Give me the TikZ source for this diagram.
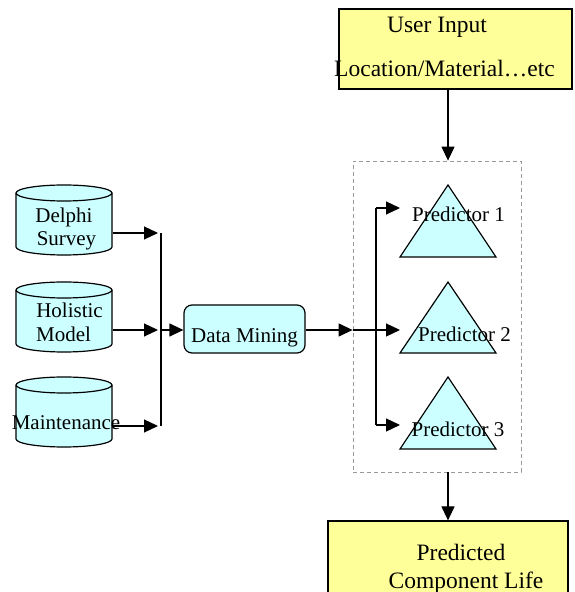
\documentclass[tikz,border=0pt]{standalone}
\usepackage{fontspec}
\setmainfont{Liberation Serif}
\usetikzlibrary{arrows.meta,calc}
\definecolor{cyanfill}{HTML}{CCFFFF}
\definecolor{yellowfill}{HTML}{FFFF99}
\definecolor{dashgray}{HTML}{999999}
\newcommand\mycyl[3]{%
  \draw[fill=cyanfill] ({#2-48},{#3-8}) -- ({#2-48},{#3-62})
    arc[start angle=180,end angle=360,x radius=48pt,y radius=8pt]
    -- ({#2+48},{#3-8})
    arc[start angle=0,end angle=180,x radius=48pt,y radius=8pt] -- cycle;
  \draw ({#2-48},{#3-8}) arc[start angle=180,end angle=360,x radius=48pt,y radius=8pt];
  \node[minimum width=96pt,minimum height=70pt,inner sep=0pt] (#1) at (#2,{#3-35}) {};
}
\begin{document}
\begin{tikzpicture}[x=1pt,y=1pt,line width=1.2pt,
  arr/.style={-{Triangle[length=14pt,width=13pt]}},
  ctxt/.style={font=\fontsize{21}{25}\selectfont,anchor=base,inner sep=0pt},
  ytxt/.style={font=\fontsize{23.5}{28}\selectfont,anchor=base,inner sep=0pt},
  ybox/.style={draw,fill=yellowfill,inner sep=0pt},
  tri/.style={draw,fill=cyanfill,line join=miter}]
\useasboundingbox (0,0) rectangle (574,592);
\clip (0,0) rectangle (574,592);

% user input box
\node[ybox,minimum width=233pt,minimum height=80pt] (user) at (455.5,543) {};
\node[ytxt] (ut1) at (437,559) {User Input};
\node[ytxt] (ut2) at (444.5,515) {Location/Material…etc};

% cylinders
\mycyl{delphi}{64}{407}
\mycyl{holistic}{64}{310}
\mycyl{maint}{64}{215}
\node[ctxt] (dt1) at (64,369) {Delphi};
\node[ctxt] (dt2) at (66.5,346) {Survey};
\node[ctxt] (ht1) at (69.5,274) {Holistic};
\node[ctxt] (ht2) at (63.5,250) {Model};
\node[ctxt] (mt1) at (66,162) {Maintenance};

% bus left
\coordinate (bl1) at (161,359);
\coordinate (bl2) at (161,262);
\coordinate (bl3) at (161,166);
\draw[arr,shorten >=3pt] (delphi.east |- bl1) -- (bl1);
\draw[arr,shorten >=3pt] (holistic.east |- bl2) -- (bl2);
\draw[arr,shorten >=3pt] (maint.east |- bl3) -- (bl3);
\draw (bl1) -- (bl3);

% data mining
\node[draw,fill=cyanfill,rounded corners=8pt,minimum width=121pt,minimum height=48pt] (dm) at (244.5,263) {};
\node[ctxt] (dmt) at (244.5,249) {Data Mining};
\draw[arr] (bl2) -- (dm.west |- bl2);

% predictor box
\node[draw=dashgray,line width=0.8pt,dash pattern=on 4pt off 3pt,minimum width=168pt,minimum height=311pt,inner sep=0pt] (pbox) at (437,275.5) {};

% triangles
\coordinate (a1) at (448,407);
\coordinate (a2) at (448,310);
\coordinate (a3) at (448,215);
\draw[tri] (a1) -- (496,335) -- (400,335) -- cycle;
\draw[tri] (a2) -- (496,239) -- (400,239) -- cycle;
\draw[tri] (a3) -- (496,143) -- (400,143) -- cycle;
\node[ctxt] (pt1) at (458.5,370) {Predictor 1};
\node[ctxt] (pt2) at (464.5,250) {Predictor 2};
\node[ctxt] (pt3) at (458,155) {Predictor 3};

% right bus
\coordinate (br1) at (376,384);
\coordinate (br2) at (376,262);
\coordinate (br3) at (376,167);
\coordinate (p1in) at (400,384);
\coordinate (p2in) at (400,262);
\coordinate (p3in) at (400,167);
\draw[arr] (dm.east |- br2) -- (pbox.west |- br2);
\draw (pbox.west |- br2) -- (br2);
\draw (br1) -- (br3);
\draw[arr] (br1) -- (p1in);
\draw[arr] (br2) -- (p2in);
\draw[arr] (br3) -- (p3in);

% output box
\node[ybox,minimum width=240pt,minimum height=91pt] (out) at (448,25.5) {};
\node[ytxt] (ot1) at (461,31) {Predicted};
\node[ytxt] (ot2) at (466,4) {Component Life};

% vertical arrows
\draw[arr] (user.south -| a1) -- (pbox.north -| a1);
\draw[arr] (pbox.south -| a1) -- (out.north -| a1);
\end{tikzpicture}
\end{document}
